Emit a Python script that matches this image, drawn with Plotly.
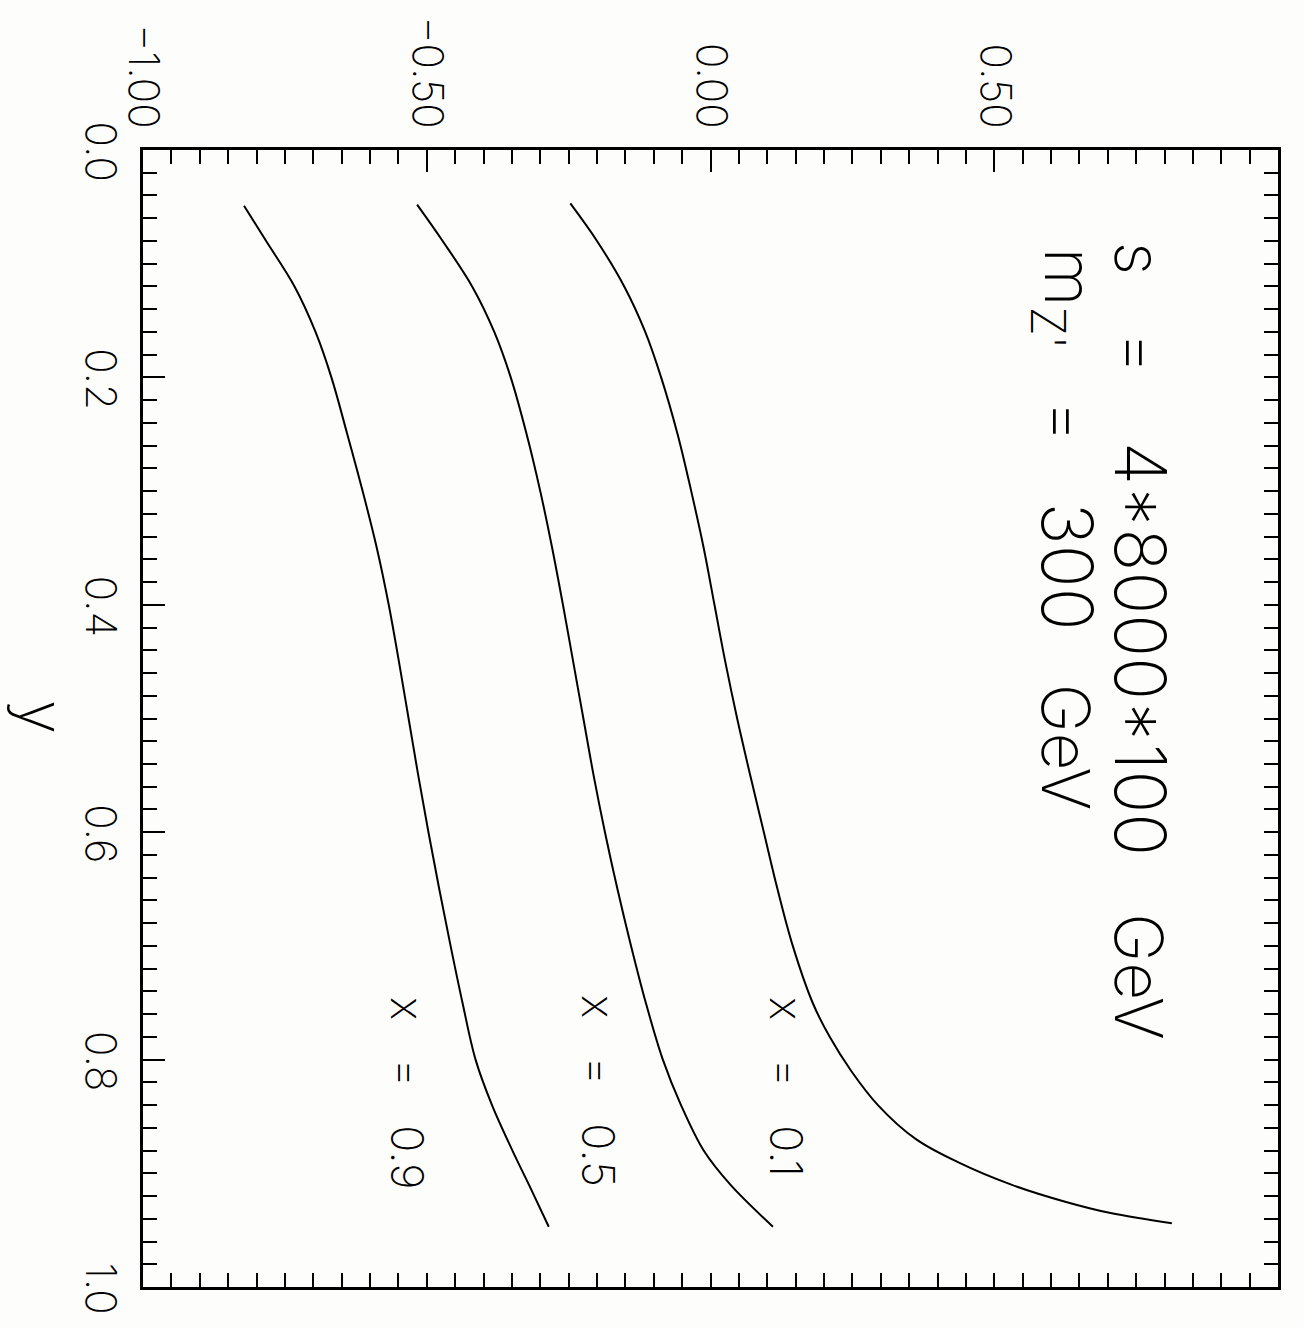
import plotly.graph_objects as go

# ---- data ----
y_x01 = [0.047, 0.08, 0.12, 0.16, 0.20, 0.25, 0.30, 0.35, 0.40, 0.45, 0.50, 0.55, 0.60, 0.65, 0.70,
         0.75, 0.78, 0.81, 0.84, 0.87, 0.89, 0.91, 0.925, 0.935, 0.944]
v_x01 = [-0.247, -0.200, -0.152, -0.115, -0.087, -0.058, -0.034, -0.012, 0.007, 0.026, 0.047, 0.070, 0.094,
         0.118, 0.145, 0.180, 0.210, 0.248, 0.295, 0.362, 0.435, 0.530, 0.625, 0.705, 0.813]

y_x05 = [0.048, 0.08, 0.12, 0.16, 0.20, 0.25, 0.30, 0.35, 0.40, 0.45, 0.50, 0.55, 0.60, 0.65, 0.70,
         0.75, 0.80, 0.84, 0.88, 0.91, 0.947]
v_x05 = [-0.517, -0.472, -0.420, -0.381, -0.352, -0.324, -0.300, -0.279, -0.260, -0.242, -0.224, -0.206,
         -0.186, -0.164, -0.140, -0.114, -0.084, -0.052, -0.012, 0.035, 0.110]

y_x09 = [0.049, 0.08, 0.12, 0.16, 0.20, 0.25, 0.30, 0.35, 0.40, 0.45, 0.50, 0.55, 0.60, 0.65, 0.70,
         0.75, 0.80, 0.84, 0.88, 0.91, 0.947]
v_x09 = [-0.822, -0.783, -0.733, -0.696, -0.668, -0.640, -0.613, -0.588, -0.567, -0.549, -0.532, -0.515,
         -0.497, -0.478, -0.458, -0.437, -0.414, -0.385, -0.349, -0.320, -0.285]

x_ticks = [-1.0, -0.5, 0.0, 0.5, 1.0]
x_ticktext = ["\u22121.00", "\u22120.50", "0.00", "0.50", "1.00"]
y_ticks = [0.0, 0.2, 0.4, 0.6, 0.8, 1.0]
y_ticktext = ["0.0", "0.2", "0.4", "0.6", "0.8", "1.0"]

FONT = "DejaVu Sans ExtraLight, Inter, DejaVu Sans, sans-serif"
BG = "#fdfdfc"

fig = go.Figure()
for yy, vv in [(y_x01, v_x01), (y_x05, v_x05), (y_x09, v_x09)]:
    fig.add_trace(go.Scatter(x=vv, y=yy, mode="lines",
                             line=dict(color="black", width=2, shape="spline", smoothing=1.0),
                             showlegend=False, hoverinfo="skip"))
# helper trace for the mirrored tick axes
fig.add_trace(go.Scatter(x=[0], y=[0.5], xaxis="x2", yaxis="y2", mode="markers",
                         marker=dict(size=1, color="rgba(0,0,0,0)"),
                         showlegend=False, hoverinfo="skip"))

fig.update_layout(
    width=1304, height=1327, autosize=False,
    margin=dict(l=143, r=26, t=150, b=28, pad=0),
    paper_bgcolor=BG, plot_bgcolor=BG,
    font=dict(family=FONT, color="black", weight=200),
    xaxis=dict(range=[-1, 1], side="top", showgrid=False, zeroline=False,
               showline=True, linecolor="black", linewidth=2.5, mirror=True,
               tickmode="array", tickvals=x_ticks, ticktext=x_ticktext,
               ticks="inside", ticklen=22, tickwidth=2, tickcolor="black",
               tickangle=90, tickfont=dict(size=42, family=FONT, weight=200),
               minor=dict(dtick=0.05, ticks="inside", ticklen=14, tickwidth=2, tickcolor="black"),
               ticklabelstandoff=4),
    yaxis=dict(range=[1, 0], showgrid=False, zeroline=False,
               showline=True, linecolor="black", linewidth=2.5, mirror=True,
               tickmode="array", tickvals=y_ticks, ticktext=y_ticktext,
               ticks="inside", ticklen=22, tickwidth=2, tickcolor="black",
               tickangle=90, tickfont=dict(size=42, family=FONT, weight=200),
               minor=dict(dtick=0.02, ticks="inside", ticklen=14, tickwidth=2, tickcolor="black"),
               ticklabelshift=-8, ticklabelstandoff=4),
    xaxis2=dict(range=[-1, 1], overlaying="x", side="bottom", anchor="y", showgrid=False,
                zeroline=False, showline=False, showticklabels=False,
                tickmode="linear", tick0=-1, dtick=0.05, ticks="inside", ticklen=14,
                tickwidth=2, tickcolor="black"),
    yaxis2=dict(range=[1, 0], overlaying="y", side="right", anchor="x", showgrid=False,
                zeroline=False, showline=False, showticklabels=False,
                tickmode="linear", tick0=0, dtick=0.02, ticks="inside", ticklen=14,
                tickwidth=2, tickcolor="black"),
)

def px2v(px):
    return -1 + (px - 143) / 567.5

def py2y(py):
    return (py - 150) / 1149.0

def note(text, px, py, size):
    fig.add_annotation(text=text, x=px2v(px), y=py2y(py), xref="x", yref="y",
                       showarrow=False, textangle=90, xanchor="center", yanchor="middle",
                       font=dict(size=size, family=FONT, color="black", weight=200))

NB = "\u00a0"
# s line
note("s", 1139, 259, 66)
note("=", 1139, 355, 66)
note("4*8000*100", 1141, 654, 71)
note("GeV", 1139, 985, 66)
# m line
note("m<sub>Z'</sub>", 1066, 300, 68)
note("=", 1066, 424, 66)
note("300", 1068, 571, 71)
note("GeV", 1066, 753, 66)
# curve labels
SP = NB * 3
note("x" + SP + "=" + SP + "0.1", 787, 1097, 45)
note("x" + SP + "=" + SP + "0.5", 599, 1101, 45)
note("x" + SP + "=" + SP + "0.9", 408, 1103, 45)

# axis title
fig.add_annotation(text="y", x=0.0, y=py2y(723), xref="paper", yref="y", xshift=-100,
                   showarrow=False, textangle=90, xanchor="center", yanchor="middle",
                   font=dict(size=62, family=FONT, color="black", weight=200))

fig.write_html("out.html")
